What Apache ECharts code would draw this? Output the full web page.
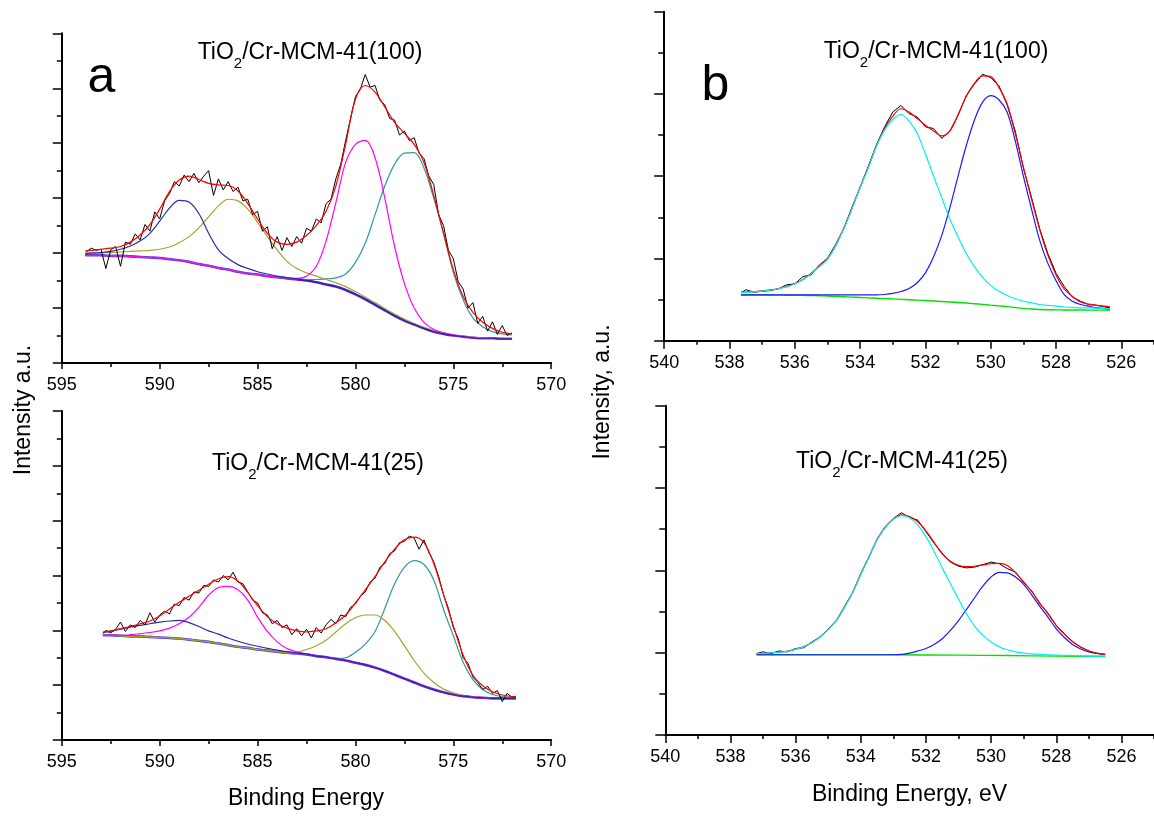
<!DOCTYPE html>
<html><head><meta charset="utf-8">
<script src="https://cdn.jsdelivr.net/npm/echarts@6/dist/echarts.min.js"></script>
<style>html,body{margin:0;padding:0;background:#fff}#c{width:1154px;height:817px}</style>
</head><body><div id="c"></div>
<script>
// ---------- Panel a, top: TiO2/Cr-MCM-41(100), Cr 2p ----------
const aTopFitE = [593.8,593.5,593,592.5,592,591.5,591,590.5,590,589.5,589,588.5,588,587.5,587,586.5,586,585.5,585,584.5,584,583.5,583,582.5,582,581.5,581,580.5,580,579.5,579,578.5,578,577.5,577,576.5,576,575.5,575,574.5,574,573.5,573,572.5,572];
const aTopBg = [1.96,1.96,1.96,1.95,1.95,1.94,1.93,1.92,1.91,1.89,1.87,1.84,1.80,1.77,1.73,1.70,1.66,1.63,1.61,1.58,1.56,1.54,1.52,1.50,1.47,1.43,1.39,1.33,1.25,1.16,1.06,0.96,0.86,0.77,0.70,0.63,0.57,0.53,0.50,0.48,0.46,0.45,0.45,0.44,0.44];
const aTopBlue = [1.99,2.00,2.01,2.03,2.07,2.13,2.22,2.36,2.58,2.82,2.96,2.93,2.72,2.36,2.06,1.90,1.79,1.72,1.66,1.62,1.58,1.555,1.53,1.505,1.475,1.43,1.39,1.33,1.25,1.16,1.06,0.96,0.86,0.77,0.70,0.63,0.57,0.53,0.50,0.48,0.46,0.45,0.45,0.44,0.44];
const aTopOlive = [2.00,2.00,2.01,2.01,2.02,2.03,2.04,2.05,2.07,2.11,2.19,2.30,2.46,2.66,2.86,2.98,2.95,2.80,2.56,2.30,2.06,1.85,1.72,1.64,1.58,1.52,1.46,1.39,1.30,1.20,1.10,0.99,0.89,0.80,0.72,0.65,0.59,0.55,0.51,0.49,0.47,0.46,0.45,0.45,0.44];
const aTopMagenta = [1.96,1.96,1.96,1.95,1.95,1.94,1.93,1.92,1.91,1.89,1.87,1.84,1.80,1.77,1.73,1.70,1.66,1.63,1.61,1.58,1.56,1.55,1.54,1.58,1.76,2.22,2.92,3.65,3.98,4.05,3.74,3.00,2.12,1.45,1.00,0.74,0.61,0.55,0.51,0.48,0.46,0.45,0.45,0.44,0.44];
const aTopTeal = [1.96,1.96,1.96,1.95,1.95,1.94,1.93,1.92,1.91,1.89,1.87,1.84,1.80,1.77,1.73,1.70,1.66,1.63,1.61,1.58,1.56,1.54,1.53,1.52,1.52,1.53,1.55,1.62,1.83,2.18,2.70,3.22,3.62,3.82,3.83,3.55,3.00,2.36,1.65,1.15,0.82,0.66,0.57,0.53,0.51];
const aTopFit = [2.04,2.05,2.07,2.09,2.12,2.20,2.33,2.52,2.80,3.12,3.33,3.40,3.34,3.27,3.24,3.23,3.13,2.90,2.62,2.36,2.20,2.16,2.20,2.32,2.50,2.76,3.22,3.98,4.80,5.05,4.93,4.66,4.38,4.18,3.98,3.65,3.05,2.36,1.70,1.21,0.92,0.74,0.63,0.56,0.53];
const aTopRawE = [593.75,593.5,593.25,593,592.75,592.5,592.25,592,591.75,591.5,591.25,591,590.75,590.5,590.25,590,589.75,589.5,589.25,589,588.75,588.5,588.25,588,587.75,587.5,587.25,587,586.75,586.5,586.25,586,585.75,585.5,585.25,585,584.75,584.5,584.25,584,583.75,583.5,583.25,583,582.75,582.5,582.25,582,581.75,581.5,581.25,581,580.75,580.5,580.25,580,579.75,579.5,579.25,579,578.75,578.5,578.25,578,577.75,577.5,577.25,577,576.75,576.5,576.25,576,575.75,575.5,575.25,575,574.75,574.5,574.25,574,573.75,573.5,573.25,573,572.75,572.5,572.25,572];
const aTopRaw = [2.02,2.09,2.05,2.07,1.72,2.06,2.12,1.76,2.20,2.16,2.35,2.24,2.52,2.40,2.75,2.62,2.95,3.08,3.30,3.22,3.42,3.30,3.45,3.28,3.40,3.50,3.05,3.35,3.15,3.30,3.12,3.20,2.95,2.98,2.70,2.76,2.40,2.48,2.08,2.30,2.05,2.28,2.12,2.30,2.18,2.45,2.40,2.62,2.55,2.90,2.98,3.35,3.62,4.05,4.45,4.85,4.98,5.25,5.02,5.05,4.78,4.70,4.45,4.42,4.15,4.22,4.05,4.10,3.82,3.72,3.40,3.25,2.70,2.50,2.05,1.90,1.48,1.35,1.00,1.10,0.72,0.85,0.58,0.75,0.52,0.68,0.50,0.55];

// ---------- Panel a, bottom: TiO2/Cr-MCM-41(25), Cr 2p ----------
const aBotFitE = [592.9,592.5,592,591.5,591,590.5,590,589.5,589,588.5,588,587.5,587,586.5,586,585.5,585,584.5,584,583.5,583,582.5,582,581.5,581,580.5,580,579.5,579,578.5,578,577.5,577,576.5,576,575.5,575,574.5,574,573.5,573,572.5,572,571.8];
const aBotBg = [1.91,1.91,1.90,1.89,1.89,1.88,1.87,1.86,1.85,1.83,1.81,1.79,1.76,1.73,1.70,1.68,1.65,1.63,1.61,1.59,1.58,1.56,1.53,1.51,1.48,1.45,1.41,1.37,1.32,1.26,1.19,1.12,1.05,0.98,0.92,0.87,0.83,0.80,0.78,0.77,0.76,0.76,0.76,0.76];
const aBotBlue = [1.96,1.98,2.02,2.06,2.09,2.12,2.15,2.17,2.18,2.14,2.07,1.99,1.93,1.86,1.80,1.75,1.71,1.67,1.64,1.61,1.59,1.565,1.53,1.51,1.48,1.45,1.41,1.37,1.32,1.26,1.19,1.12,1.05,0.98,0.92,0.87,0.83,0.80,0.78,0.77,0.76,0.76,0.76,0.76];
const aBotMagenta = [1.91,1.91,1.91,1.92,1.94,1.96,1.99,2.04,2.12,2.24,2.42,2.64,2.78,2.80,2.74,2.55,2.24,1.98,1.79,1.67,1.61,1.57,1.54,1.51,1.48,1.45,1.41,1.37,1.32,1.26,1.19,1.12,1.05,0.98,0.92,0.87,0.83,0.80,0.78,0.77,0.76,0.76,0.76,0.76];
const aBotOlive = [1.91,1.91,1.90,1.89,1.89,1.88,1.87,1.86,1.85,1.83,1.81,1.79,1.76,1.73,1.70,1.68,1.65,1.63,1.61,1.59,1.60,1.65,1.72,1.82,1.97,2.12,2.23,2.28,2.28,2.18,1.98,1.72,1.45,1.22,1.05,0.93,0.86,0.81,0.78,0.77,0.76,0.76,0.76,0.76];
const aBotTeal = [1.91,1.91,1.90,1.89,1.89,1.88,1.87,1.86,1.85,1.83,1.81,1.79,1.76,1.73,1.70,1.68,1.65,1.63,1.61,1.59,1.58,1.56,1.53,1.51,1.49,1.50,1.60,1.75,1.98,2.40,2.85,3.15,3.27,3.20,2.92,2.38,1.90,1.42,1.10,0.92,0.83,0.79,0.77,0.77];
const aBotFit = [1.97,1.99,2.03,2.07,2.12,2.17,2.26,2.39,2.51,2.62,2.73,2.84,2.94,2.98,2.90,2.69,2.45,2.25,2.12,2.04,1.99,1.97,1.99,2.03,2.14,2.28,2.50,2.74,2.98,3.25,3.48,3.65,3.70,3.60,3.22,2.65,2.08,1.55,1.18,0.99,0.88,0.82,0.79,0.78];
const aBotRawE = [592.9,592.75,592.5,592.25,592,591.75,591.5,591.25,591,590.75,590.5,590.25,590,589.75,589.5,589.25,589,588.75,588.5,588.25,588,587.75,587.5,587.25,587,586.75,586.5,586.25,586,585.75,585.5,585.25,585,584.75,584.5,584.25,584,583.75,583.5,583.25,583,582.75,582.5,582.25,582,581.75,581.5,581.25,581,580.75,580.5,580.25,580,579.75,579.5,579.25,579,578.75,578.5,578.25,578,577.75,577.5,577.25,577,576.75,576.5,576.25,576,575.75,575.5,575.25,575,574.75,574.5,574.25,574,573.75,573.5,573.25,573,572.75,572.5,572.25,572,571.8];
const aBotRaw = [1.94,2.00,1.95,2.02,2.15,1.98,2.10,2.05,2.18,2.10,2.32,2.15,2.28,2.35,2.30,2.48,2.45,2.60,2.55,2.70,2.68,2.82,2.80,2.92,2.88,3.00,2.92,3.06,2.88,2.85,2.70,2.55,2.50,2.32,2.28,2.12,2.18,2.05,2.10,1.92,2.03,1.90,2.02,1.86,2.05,1.95,2.10,2.20,2.12,2.28,2.25,2.42,2.48,2.62,2.70,2.88,2.95,3.15,3.22,3.40,3.45,3.60,3.62,3.72,3.68,3.48,3.65,3.42,3.25,2.98,2.65,2.40,2.05,1.85,1.50,1.40,1.15,1.05,0.92,0.98,0.85,0.90,0.70,0.85,0.78,0.80];

// ---------- Panel b, top: TiO2/Cr-MCM-41(100), O 1s ----------
const bTopE = [537.65,537.5,537.25,537,536.75,536.5,536.25,536,535.75,535.5,535.25,535,534.75,534.5,534.25,534,533.75,533.5,533.25,533,532.75,532.5,532.25,532,531.75,531.5,531.25,531,530.75,530.5,530.25,530,529.75,529.5,529.25,529,528.75,528.5,528.25,528,527.75,527.5,527.25,527,526.75,526.5,526.35];
const bTopBg = [0.556,0.556,0.556,0.555,0.555,0.554,0.553,0.552,0.551,0.549,0.546,0.543,0.539,0.535,0.530,0.526,0.521,0.517,0.512,0.508,0.503,0.498,0.493,0.488,0.483,0.477,0.471,0.465,0.458,0.450,0.442,0.433,0.424,0.414,0.403,0.393,0.385,0.380,0.377,0.375,0.374,0.373,0.373,0.372,0.372,0.372,0.372];
const bTopCyan = [0.585,0.588,0.595,0.603,0.615,0.632,0.655,0.690,0.740,0.815,0.90,0.99,1.15,1.36,1.60,1.86,2.10,2.36,2.56,2.69,2.75,2.67,2.52,2.27,2.00,1.74,1.48,1.26,1.06,0.90,0.77,0.67,0.60,0.55,0.51,0.48,0.46,0.44,0.43,0.42,0.41,0.405,0.40,0.398,0.395,0.392,0.39];
const bTopBlue = [0.556,0.556,0.556,0.556,0.556,0.556,0.556,0.556,0.556,0.556,0.556,0.556,0.556,0.556,0.556,0.556,0.556,0.556,0.562,0.575,0.598,0.635,0.705,0.825,1.02,1.28,1.62,2.00,2.37,2.68,2.90,2.98,2.93,2.78,2.43,2.00,1.60,1.22,0.94,0.73,0.56,0.48,0.44,0.42,0.40,0.39,0.385];
const bTopFit = [0.59,0.592,0.598,0.606,0.618,0.635,0.66,0.695,0.745,0.82,0.905,1.0,1.16,1.37,1.61,1.87,2.11,2.37,2.58,2.73,2.82,2.78,2.70,2.62,2.55,2.49,2.55,2.75,2.97,3.13,3.22,3.21,3.08,2.88,2.52,2.11,1.72,1.35,1.04,0.80,0.63,0.54,0.47,0.445,0.43,0.42,0.413];
const bTopRaw = [0.58,0.62,0.59,0.60,0.61,0.63,0.68,0.69,0.78,0.80,0.92,1.00,1.17,1.36,1.62,1.86,2.12,2.38,2.60,2.78,2.86,2.76,2.72,2.60,2.58,2.46,2.55,2.74,2.98,3.12,3.24,3.20,3.10,2.87,2.55,2.10,1.74,1.36,1.06,0.82,0.66,0.53,0.48,0.44,0.43,0.41,0.40];

// ---------- Panel b, bottom: TiO2/Cr-MCM-41(25), O 1s ----------
const bBotE = [537.2,537,536.75,536.5,536.25,536,535.75,535.5,535.25,535,534.75,534.5,534.25,534,533.75,533.5,533.25,533,532.75,532.5,532.25,532,531.75,531.5,531.25,531,530.75,530.5,530.25,530,529.75,529.5,529.25,529,528.75,528.5,528.25,528,527.75,527.5,527.25,527,526.75,526.5];
const bBotBgE = [537.2,535,533,531,529.5,528,526.5];
const bBotBg = [0.975,0.975,0.974,0.970,0.965,0.958,0.955];
const bBotCyan = [0.99,0.992,0.998,1.005,1.015,1.04,1.07,1.12,1.19,1.28,1.39,1.55,1.73,1.95,2.16,2.37,2.52,2.62,2.665,2.64,2.55,2.41,2.23,2.03,1.84,1.65,1.47,1.32,1.21,1.13,1.07,1.035,1.01,0.995,0.985,0.98,0.975,0.97,0.968,0.965,0.962,0.96,0.958,0.957];
const bBotBlue = [0.975,0.975,0.975,0.975,0.975,0.975,0.975,0.975,0.975,0.975,0.975,0.975,0.975,0.975,0.975,0.975,0.975,0.975,0.98,0.995,1.02,1.05,1.10,1.17,1.27,1.39,1.53,1.67,1.81,1.92,1.975,1.97,1.92,1.83,1.70,1.56,1.43,1.29,1.185,1.10,1.045,1.01,0.99,0.975];
const bBotFit = [0.99,0.993,1.0,1.007,1.018,1.043,1.073,1.123,1.193,1.283,1.393,1.553,1.733,1.953,2.163,2.373,2.525,2.625,2.675,2.655,2.59,2.48,2.34,2.20,2.11,2.06,2.045,2.05,2.066,2.08,2.085,2.06,1.97,1.86,1.74,1.60,1.47,1.33,1.225,1.135,1.065,1.02,0.995,0.98];
const bBotRaw = [0.99,1.01,0.99,1.02,1.01,1.05,1.06,1.13,1.19,1.29,1.39,1.56,1.73,1.96,2.16,2.38,2.53,2.63,2.70,2.64,2.61,2.47,2.33,2.21,2.10,2.05,2.03,2.04,2.07,2.10,2.08,2.02,1.98,1.85,1.75,1.59,1.48,1.33,1.23,1.13,1.07,1.02,0.99,0.98];

// ---------- axis ticks / labels ----------
const bMajorTicks = [540,538,536,534,532,530,528,526];
const bMinorTicks = [539,537,535,533,531,529,527,525];
const titles = ['TiO|2|/Cr-MCM-41(100)', 'TiO|2|/Cr-MCM-41(25)'];

const FONT = '"Liberation Sans", Arial, Helvetica, sans-serif';
const zip = (E, V) => E.map((e, i) => [e, V[i]]);

const grids = [
  {left: 61.8, top: 33.3, width: 489.4, height: 329.7},
  {left: 61.8, top: 411, width: 489.4, height: 329},
  {left: 664.2, top: 11.7, width: 489.8, height: 329},
  {left: 665.3, top: 405.7, width: 488.7, height: 329.3}
];

const black = '#000';
function aX(g) {
  return {gridIndex: g, type: 'value', min: 570, max: 595, interval: 5, inverse: true,
    axisLine: {onZero: false, lineStyle: {color: black, width: 2}},
    axisTick: {length: 6, lineStyle: {color: black, width: 1.5}},
    minorTick: {show: true, splitNumber: 2, length: 4, lineStyle: {color: black, width: 1.5}},
    axisLabel: {fontSize: 18, color: black, fontFamily: FONT, margin: 13},
    splitLine: {show: false}, minorSplitLine: {show: false}};
}
function aY(g) {
  return {gridIndex: g, type: 'value', min: 0, max: 6, interval: 1,
    axisLine: {show: true, onZero: false, lineStyle: {color: black, width: 2}},
    axisTick: {show: true, length: 9, lineStyle: {color: black, width: 1.5}},
    minorTick: {show: true, splitNumber: 2, length: 5, lineStyle: {color: black, width: 1.5}},
    axisLabel: {show: false}, splitLine: {show: false}};
}
function bXmain(g) {
  return {gridIndex: g, type: 'value', min: 525, max: 540, interval: 1, inverse: true,
    axisLine: {onZero: false, lineStyle: {color: black, width: 2}},
    axisTick: {length: 8, customValues: bMajorTicks, lineStyle: {color: black, width: 1.5}},
    axisLabel: {fontSize: 18, color: black, fontFamily: FONT, margin: 13, customValues: bMajorTicks},
    splitLine: {show: false}};
}
function bXminor(g) {
  return {gridIndex: g, type: 'value', min: 525, max: 540, interval: 1, inverse: true, position: 'bottom', offset: 0,
    axisLine: {show: false, onZero: false},
    axisTick: {length: 4, customValues: bMinorTicks, lineStyle: {color: black, width: 1.5}},
    axisLabel: {show: false}, splitLine: {show: false}};
}
function bY(g) {
  return {gridIndex: g, type: 'value', min: 0, max: 4, interval: 1,
    axisLine: {show: true, onZero: false, lineStyle: {color: black, width: 2}},
    axisTick: {show: true, length: 10, lineStyle: {color: black, width: 1.5}},
    minorTick: {show: true, splitNumber: 2, length: 6, lineStyle: {color: black, width: 1.5}},
    axisLabel: {show: false}, splitLine: {show: false}};
}

function line(xi, yi, data, color, width, smooth, z) {
  return {type: 'line', xAxisIndex: xi, yAxisIndex: yi, data: data, showSymbol: false, symbol: 'none',
    smooth: smooth ? 0.35 : false, lineStyle: {color: color, width: width}, z: z || 2, silent: true};
}

const C = {raw: '#000000', fit: '#ff0000', navy: '#2b2ba6', olive: '#a3a32e', mag: '#ff00ff', teal: '#2a9c9c',
  bgA1: '#7a2ee0', bgA2: '#2626c4', cyan: '#00f0f0', blue: '#1a1aff', green: '#00e000'};

const series = [
  // panel a top
  line(0, 0, zip(aTopFitE, aTopBg), C.bgA1, 2.6, true, 2),
  line(0, 0, zip(aTopFitE, aTopBg), C.bgA2, 1.2, true, 2),
  line(0, 0, zip(aTopFitE, aTopTeal), C.teal, 1.2, true, 3),
  line(0, 0, zip(aTopFitE, aTopOlive), C.olive, 1.2, true, 3),
  line(0, 0, zip(aTopFitE, aTopMagenta), C.mag, 1.2, true, 3),
  line(0, 0, zip(aTopFitE, aTopBlue), C.navy, 1.2, true, 3),
  line(0, 0, zip(aTopRawE, aTopRaw), C.raw, 1, false, 4),
  line(0, 0, zip(aTopFitE, aTopFit), C.fit, 1.2, true, 5),
  // panel a bottom
  line(1, 1, zip(aBotFitE, aBotBg), C.bgA1, 2.6, true, 2),
  line(1, 1, zip(aBotFitE, aBotBg), C.bgA2, 1.2, true, 2),
  line(1, 1, zip(aBotFitE, aBotTeal), C.teal, 1.2, true, 3),
  line(1, 1, zip(aBotFitE, aBotOlive), C.olive, 1.2, true, 3),
  line(1, 1, zip(aBotFitE, aBotMagenta), C.mag, 1.2, true, 3),
  line(1, 1, zip(aBotFitE, aBotBlue), C.navy, 1.2, true, 3),
  line(1, 1, zip(aBotRawE, aBotRaw), C.raw, 1, false, 4),
  line(1, 1, zip(aBotFitE, aBotFit), C.fit, 1.2, true, 5),
  // panel b top
  line(2, 2, zip(bTopE, bTopBg), C.green, 1.4, true, 2),
  line(2, 2, zip(bTopE, bTopBlue), C.blue, 1.2, true, 3),
  line(2, 2, zip(bTopE, bTopRaw), C.raw, 1, false, 4),
  line(2, 2, zip(bTopE, bTopFit), C.fit, 1.2, true, 5),
  line(2, 2, zip(bTopE, bTopCyan), C.cyan, 1.2, true, 6),
  // panel b bottom
  line(3, 3, zip(bBotBgE, bBotBg), C.green, 1.4, true, 2),
  line(3, 3, zip(bBotE, bBotBlue), C.blue, 1.2, true, 3),
  line(3, 3, zip(bBotE, bBotRaw), C.raw, 1, false, 4),
  line(3, 3, zip(bBotE, bBotFit), C.fit, 1.2, true, 5),
  line(3, 3, zip(bBotE, bBotCyan), C.cyan, 1.2, true, 6)
];

function richTitle(t, x, y) {
  const p = t.split('|');
  return {type: 'text', x: x, y: y, z: 100,
    style: {text: '{m|' + p[0] + '}{s|' + p[1] + '}{m|' + p[2] + '}', align: 'center', verticalAlign: 'middle', fill: black,
      rich: {m: {fontSize: 23, fontFamily: FONT, lineHeight: 36, verticalAlign: 'middle', fill: black},
             s: {fontSize: 15, fontFamily: FONT, lineHeight: 14, verticalAlign: 'bottom', fill: black}}}};
}
function txt(s, x, y, size, rot) {
  return {type: 'text', x: x, y: y, rotation: rot || 0, z: 100,
    style: {text: s, fontSize: size, fontFamily: FONT, fill: black, align: 'center', verticalAlign: 'middle'}};
}

const option = {
  animation: false,
  backgroundColor: '#fff',
  grid: grids,
  xAxis: [aX(0), aX(1), bXmain(2), bXmain(3), bXminor(2), bXminor(3)],
  yAxis: [aY(0), aY(1), bY(2), bY(3)],
  series: series,
  graphic: [
    richTitle(titles[0], 310, 53),
    richTitle(titles[1], 318, 464),
    richTitle(titles[0], 936, 52),
    richTitle(titles[1], 902, 462),
    txt('a', 101.5, 78, 50),
    txt('b', 715.5, 86, 50),
    txt('Binding Energy', 306, 799, 23),
    txt('Binding Energy, eV', 909.5, 795, 23),
    txt('Intensity a.u.', 24, 410, 23, Math.PI / 2),
    txt('Intensity, a.u.', 603, 392, 23, Math.PI / 2)
  ]
};

const chart = echarts.init(document.getElementById('c'), null, {renderer: 'canvas'});
chart.setOption(option);
</script>
</body></html>
